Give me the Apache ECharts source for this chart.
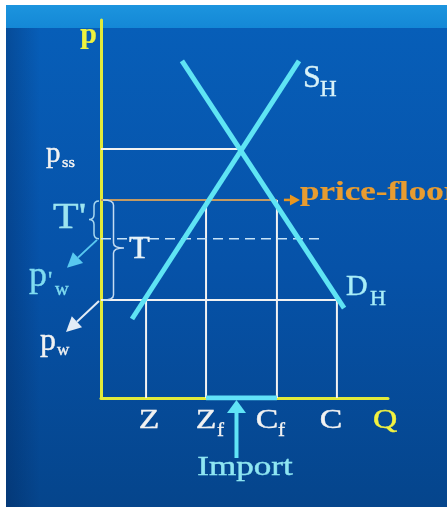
<!DOCTYPE html>
<html>
<head>
<meta charset="utf-8">
<script src="https://cdn.jsdelivr.net/npm/echarts@6/dist/echarts.min.js"></script>
<style>
  html, body { margin: 0; padding: 0; background: #ffffff; }
  #chart { width: 447px; height: 507px; }
</style>
</head>
<body>
<div id="chart"></div>
<script>
// Home market with a price floor and imports: supply S_H, demand D_H.
// Quantity Q runs along x (0..10), price p up y (0..10).
const supplyH = [[1.08, 2.09], [6.90, 8.92]];
const demandH = [[2.82, 8.92], [8.47, 2.38]];

// price levels
const pSS = 6.59;        // p_ss, where S_H meets D_H
const pFloor = 5.24;     // price floor
const pWorldNew = 4.21;  // p'_w
const pWorld = 2.59;     // p_w

// quantities
const qEq = 4.84;
const qZ = 1.57, qZf = 3.66, qCf = 6.13, qC = 8.22;
const qDashEnd = 7.63;

// labels under the Q axis
const qTicks = [qZ, qZf, qCf, qC];
const qTickNames = ['Z', 'Z', 'C', 'C'];
const qTickSubs = ['', 'f', 'f', ''];

const Q_MAX = 10, P_MAX = 10;

const SERIF = '"Liberation Serif", "Times New Roman", serif';
const YELLOW = '#e2ea3a';
const CYAN = '#5fe4f4';
const WHITE = '#f2f2f2';

const chart = echarts.init(document.getElementById('chart'), null, { renderer: 'canvas' });

function seg(pts, color, width, dash, z) {
  return {
    type: 'line', data: pts, symbol: 'none', silent: true, animation: false,
    z: z || 2,
    lineStyle: { color: color, width: width, type: dash || 'solid', cap: 'butt' }
  };
}

// text placed by its alphabetic baseline (approx.)
function txt(x, y, text, size, color, opt) {
  opt = opt || {};
  const sx = opt.sx || 1;
  return {
    type: 'text', x: x, y: y - 0.34 * size, scaleX: sx, scaleY: 1,
    style: {
      text: text, fill: color, stroke: color, lineWidth: opt.bold ? 0.2 : 0.4,
      font: (opt.bold ? 'bold ' : '') + size + 'px ' + SERIF,
      align: opt.align || 'left', verticalAlign: 'middle'
    }
  };
}

function arrow(x1, y1, x2, y2, color, w, headL, headW) {
  const a = Math.atan2(y2 - y1, x2 - x1);
  const bx = x2 - headL * Math.cos(a), by = y2 - headL * Math.sin(a);
  const nx = -Math.sin(a) * headW / 2, ny = Math.cos(a) * headW / 2;
  return [
    { type: 'line', shape: { x1: x1, y1: y1, x2: bx, y2: by }, style: { stroke: color, lineWidth: w } },
    { type: 'polygon', shape: { points: [[x2, y2], [bx + nx, by + ny], [bx - nx, by - ny]] }, style: { fill: color } }
  ];
}

// curly brace between y1 and y2, tips at x0, point reaching x0 + w at ym
function brace(x0, y1, y2, w, ym, color) {
  const xm = x0 + w / 2, xp = x0 + w, r = 5;
  const d = 'M' + x0 + ',' + y1 +
    ' Q' + xm + ',' + y1 + ' ' + xm + ',' + (y1 + r) +
    ' L' + xm + ',' + (ym - r) +
    ' Q' + xm + ',' + ym + ' ' + xp + ',' + ym +
    ' Q' + xm + ',' + ym + ' ' + xm + ',' + (ym + r) +
    ' L' + xm + ',' + (y2 - r) +
    ' Q' + xm + ',' + y2 + ' ' + x0 + ',' + y2;
  return { type: 'path', shape: { pathData: d }, style: { stroke: color, fill: 'none', lineWidth: 1.5 } };
}

function renderNotes(params, api) {
  const O = api.coord([0, 0]);
  const ax = O[0], ay = O[1];
  const top = api.coord([0, P_MAX]);
  const end = api.coord([Q_MAX, 0]);
  const yS = api.coord([0, pSS])[1];
  const yF = api.coord([0, pFloor])[1];
  const yW2 = api.coord([0, pWorldNew])[1];
  const yW = api.coord([0, pWorld])[1];
  const xCf = api.coord([qCf, 0])[0];
  const xMid = (api.coord([qZf, 0])[0] + xCf) / 2;
  const S = api.coord(supplyH[1]);
  const D = api.coord(demandH[1]);
  const c = [];

  // axis titles
  c.push(txt(ax - 4, top[1] + 25, 'p', 30, '#eef23e', { bold: true, align: 'right' }));
  c.push(txt(end[0] - 15, ay + 32, 'Q', 28, '#f2f240', { sx: 1.2 }));

  // price labels on the left
  c.push(txt(ax - 55, yS + 15, 'p', 29, WHITE));
  c.push(txt(ax - 39, yS + 19, 'ss', 15, WHITE, { sx: 1.1 }));

  c.push(txt(ax - 48, yF + 31, "T'", 35, '#9ce4f0', { sx: 1.2 }));
  c.push(brace(ax - 2, yF + 1, yW2, -10, (yF + yW2) / 2, '#a8d8f0'));

  c.push(brace(ax + 2, yF, yW, 21, (yF + yW) / 2 - 2, '#c4dcf2'));
  c.push(txt(ax + 28, (yF + yW) / 2 + 10, 'T', 31, '#e6f2f8', { sx: 1.1 }));

  c.push(txt(ax - 72, yW2 + 50, 'p', 36, '#7fdcf0'));
  c.push(txt(ax - 53, yW2 + 50, "'", 24, '#7fdcf0'));
  c.push(txt(ax - 46, yW2 + 58, 'w', 19, '#7fdcf0'));
  c.push.apply(c, arrow(ax - 4, yW2 + 1, ax - 34, yW2 + 29, '#58c8f0', 2, 15, 15));

  c.push(txt(ax - 61, yW + 52, 'p', 32, WHITE));
  c.push(txt(ax - 44, yW + 56, 'w', 17, WHITE));
  c.push.apply(c, arrow(ax - 2, yW + 1, ax - 35, yW + 32, '#e2ecf6', 2, 15, 15));

  // curve names
  c.push(txt(S[0] + 4, S[1] + 29, 'S', 32, '#d8f2f8'));
  c.push(txt(S[0] + 21, S[1] + 37, 'H', 23, '#d8f2f8'));
  c.push(txt(D[0] + 2, D[1] - 11, 'D', 30, '#a8eef8'));
  c.push(txt(D[0] + 26, D[1] - 1, 'H', 22, '#a8eef8'));

  // quantity labels
  const tickDx = [3, 0, -10, -6];
  const subDx = [0, 11, 1, 0];
  for (let i = 0; i < qTicks.length; i++) {
    const x = api.coord([qTicks[i], 0])[0];
    c.push(txt(x + tickDx[i], ay + 32, qTickNames[i], 27, WHITE, { align: 'center', sx: 1.25 }));
    if (qTickSubs[i]) c.push(txt(x + subDx[i], ay + 39, qTickSubs[i], 19, WHITE, { sx: 1.1 }));
  }

  // price floor pointer
  c.push.apply(c, arrow(xCf + 7, yF, xCf + 23, yF, '#ea961e', 2.5, 10, 11));
  c.push(txt(xCf + 23, yF + 2, 'price-floor', 28, '#e89c30', { bold: true, sx: 1.25 }));

  // imports
  c.push.apply(c, arrow(xMid - 5, ay + 60, xMid - 5, ay + 2, '#60e4f6', 4, 13, 19));
  c.push(txt(xMid + 3.5, ay + 79, 'Import', 27, '#8ee6f2', { align: 'center', sx: 1.3 }));

  return { type: 'group', children: c };
}

const W = 447, H = 507;

chart.setOption({
  animation: false,
  graphic: [
    { type: 'rect', z: -10, shape: { x: 0, y: 0, width: W, height: H }, style: { fill: '#ffffff' } },
    { type: 'rect', z: -10, shape: { x: 6, y: 5, width: W - 6, height: 23 },
      style: { fill: new echarts.graphic.LinearGradient(0, 0, 0, 1, [
        { offset: 0, color: '#1c94de' }, { offset: 1, color: '#1488d6' }]) } },
    { type: 'rect', z: -10, shape: { x: 6, y: 28, width: W - 6, height: H - 28 },
      style: { fill: new echarts.graphic.LinearGradient(0, 0, 0, 1, [
        { offset: 0, color: '#075eb8' }, { offset: 0.5, color: '#0652a8' }, { offset: 1, color: '#05458c' }]) } },
    { type: 'rect', z: -9, shape: { x: 6, y: 28, width: 34, height: H - 28 },
      style: { fill: new echarts.graphic.LinearGradient(0, 0, 1, 0, [
        { offset: 0, color: 'rgba(0,20,60,0.25)' }, { offset: 1, color: 'rgba(0,20,60,0)' }]) } }
  ],
  grid: { left: 101, top: 20, right: 59, bottom: 109 },
  xAxis: {
    type: 'value', min: 0, max: Q_MAX,
    axisLine: { show: true, lineStyle: { color: YELLOW, width: 3 } },
    axisTick: { show: false }, axisLabel: { show: false }, splitLine: { show: false }
  },
  yAxis: {
    type: 'value', min: 0, max: P_MAX,
    axisLine: { show: true, lineStyle: { color: YELLOW, width: 3 } },
    axisTick: { show: false }, axisLabel: { show: false }, splitLine: { show: false }
  },
  series: [
    seg([[0, pSS], [qEq, pSS]], WHITE, 2),
    seg([[0, pWorld], [qC, pWorld]], WHITE, 2),
    seg([[qZ, 0], [qZ, pWorld]], WHITE, 2),
    seg([[qC, 0], [qC, pWorld]], WHITE, 2),
    seg([[qZf, 0], [qZf, pFloor]], WHITE, 2),
    seg([[qCf, 0], [qCf, pFloor]], WHITE, 2),
    seg([[0, pWorldNew], [qDashEnd, pWorldNew]], '#c8e4f8', 1.5, [10, 6]),
    seg([[0, pFloor], [qCf, pFloor]], '#c49a62', 2),
    seg(supplyH, CYAN, 5, null, 3),
    seg(demandH, CYAN, 5, null, 3),
    seg([[qZf, 0], [qCf, 0]], '#62e2f8', 5, null, 3),
    {
      type: 'custom', silent: true, animation: false, clip: false, z: 4,
      data: [[0, 0]],
      renderItem: renderNotes
    }
  ]
});
</script>
</body>
</html>
